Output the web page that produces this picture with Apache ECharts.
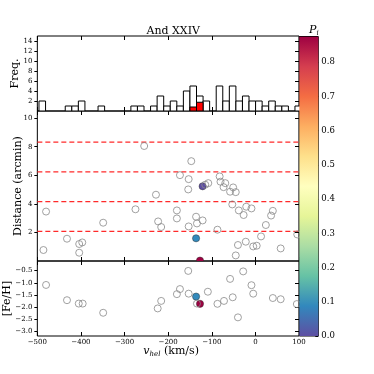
<!DOCTYPE html>
<html>
<head>
<meta charset="utf-8">
<script src="https://cdn.jsdelivr.net/npm/echarts@6/dist/echarts.min.js"></script>
<style>
  html, body { margin: 0; padding: 0; background: #fff; }
  #chart { width: 374px; height: 374px; }
</style>
</head>
<body>
<div id="chart"></div>
<script>
// heliocentric velocity axis
const velRange = [-500, 100];
const velTicks = [-500, -400, -300, -200, -100, 0, 100];

// velocity histogram (bin edges start at binStart, width binWidth)
const binStart = -496.2;
const binWidth = 15.05;
const histCounts = [2, 0, 0, 0, 1, 1, 2, 0, 0, 1, 0, 0, 0, 0, 1, 1, 0, 1, 3, 1,
                    2, 1, 4, 5, 3, 2, 0, 5, 2, 5, 2, 3, 2, 2, 1, 2, 1, 1, 0, 1];
const memberBinIdx = [23, 24];
const memberBinCounts = [0.8, 1.75];
const freqTicks = [2, 4, 6, 8, 10, 12, 14];

// distance panel
const distTicks = [2, 4, 6, 8, 10];
const rhalfLines = [2.08, 4.16, 6.24, 8.32];
const distVel = [-486, -480, -432, -404, -397, -404, -349, -255, -275, -228, -223, -216,
                 -180, -180, -173, -153, -147, -154, -153, -136, -134, -121, -115, -108,
                 -87, -82, -80, -73, -69, -58, -51, -45, -53, -38, -27, -21, -9, -40,
                 -45, -22, -5, 3, 13, 24, 36, 40, 58, 96];
const distVal = [0.77, 3.46, 1.56, 1.19, 1.30, 0.58, 2.68, 8.05, 3.62, 4.64, 2.77, 2.38,
                 3.54, 2.98, 6.01, 5.73, 6.99, 5.01, 2.42, 3.10, 2.63, 2.84, 5.34, 5.45,
                 2.19, 5.92, 5.55, 5.17, 5.45, 4.85, 5.15, 4.82, 3.96, 3.54, 3.22, 3.80, 3.68, 1.12,
                 0.39, 1.35, 1.02, 1.07, 1.72, 2.52, 3.18, 3.51, 0.88, 1.86];

// metallicity panel
const fehTicks = [-3.0, -2.5, -2.0, -1.5, -1.0, -0.5];
const fehVel = [-480, -432, -405, -396, -349, -224, -216, -180, -173, -154, -153, -134,
                -109, -87, -72, -58, -52, -40, -28, -9, -5, 40, 58, 95];
const fehVal = [-1.09, -1.72, -1.86, -1.86, -2.24, -2.06, -1.75, -1.47, -1.26, -0.51, -1.45, -1.86,
                -1.37, -1.87, -1.75, -0.84, -1.60, -2.43, -0.53, -1.10, -1.45, -1.63, -1.68, -1.88];

// probable members (P_i colour)
const memberVel = [-121, -136, -127];
const memberDist = [5.23, 1.59, 0.03];
const memberFeH = [null, -1.57, -1.87];
const memberP = [0.0, 0.09, 0.875];
const pMax = 0.875;
const pTicks = [0, 0.1, 0.2, 0.3, 0.4, 0.5, 0.6, 0.7, 0.8];

const spectral = ['#9e0142', '#d53e4f', '#f46d43', '#fdae61', '#fee08b', '#ffffbf',
                  '#e6f598', '#abdda4', '#66c2a5', '#3288bd', '#5e4fa2'];

const font = 'DejaVu Serif';
const minus = s => String(s).replace('-', '\u2212');

const chart = echarts.init(document.getElementById('chart'));

const L = 37.33, W = 261.67;
const grid = [
  { left: L, top: 36, width: W, height: 75 },
  { left: L, top: 111, width: W, height: 150 },
  { left: L, top: 261, width: W, height: 75 },
  { left: 299.33, top: 36.5, width: 19, height: 299.5 },
].map(g => Object.assign(g, { show: true, borderColor: '#000', borderWidth: 1, backgroundColor: 'transparent', outerBoundsMode: 'none' }));

function xAxis(gi, pos, labels) {
  return {
    type: 'value', gridIndex: gi, position: pos, min: velRange[0], max: velRange[1],
    axisLine: { show: false, onZero: false }, splitLine: { show: false },
    axisTick: { show: true, inside: true, length: 4, customValues: velTicks, lineStyle: { color: '#000' } },
    axisLabel: { show: labels, customValues: velTicks, margin: 3, color: '#000', fontFamily: font, fontSize: 7, formatter: minus },
  };
}

function yAxis(gi, pos, min, max, ticks, fmt, name, gap) {
  const left = pos === 'left';
  return {
    type: 'value', gridIndex: gi, position: pos, min: min, max: max,
    axisLine: { show: false, onZero: false }, splitLine: { show: false },
    axisTick: { show: true, inside: !left, length: left ? 3 : 4, customValues: ticks, lineStyle: { color: '#000' } },
    axisLabel: { show: left, customValues: ticks, margin: 5, color: '#000', fontFamily: font, fontSize: 7, formatter: fmt },
    name: left ? name : '', nameLocation: 'middle', nameGap: gap, nameMoveOverlap: false,
    nameTextStyle: { color: '#000', fontFamily: font, fontSize: 11 },
  };
}

function histItem(color) {
  return function (params, api) {
    const x0 = api.value(0), c = api.value(1);
    if (!c) return;
    const p0 = api.coord([x0, c]);
    const p1 = api.coord([x0 + binWidth, 0]);
    return {
      type: 'rect',
      shape: { x: p0[0], y: p0[1], width: p1[0] - p0[0], height: p1[1] - p0[1] },
      style: { fill: color, stroke: '#000', lineWidth: 1 },
    };
  };
}

function memberItem(params, api) {
  const p = api.coord([api.value(0), api.value(1)]);
  return {
    type: 'circle',
    shape: { cx: p[0], cy: p[1], r: 3.6 },
    style: { fill: api.visual('color'), stroke: 'rgba(40,40,40,0.55)', lineWidth: 0.8 },
  };
}

function hLineItem(params, api) {
  const a = api.coord([velRange[0], api.value(0)]);
  const b = api.coord([velRange[1], api.value(0)]);
  return {
    type: 'line',
    shape: { x1: a[0], y1: a[1], x2: b[0], y2: b[1] },
    style: { stroke: '#ff2a2a', lineWidth: 1.2, lineDash: [5, 3] },
  };
}

const grayStyle = { color: 'rgba(0,0,0,0)', borderColor: '#8a8a8a', borderWidth: 1 };

chart.setOption({
  animation: false,
  title: [
    { text: 'And XXIV', left: 168.2, top: 21, textAlign: 'center',
      textStyle: { fontFamily: font, fontSize: 11, fontWeight: 'normal', color: '#000' } },
    { text: '{p|P}{i|i}', left: 308.8, top: 19, textAlign: 'center',
      textStyle: { fontWeight: 'normal', rich: {
        p: { fontFamily: font, fontSize: 11, fontStyle: 'italic', fontWeight: 'normal', color: '#000' },
        i: { fontFamily: font, fontSize: 7, fontStyle: 'italic', fontWeight: 'normal', color: '#000', padding: [6, 0, 0, 0] },
      } } },
  ],
  grid: grid,
  xAxis: [
    xAxis(0, 'bottom', false), xAxis(0, 'top', false),
    xAxis(1, 'bottom', false), xAxis(1, 'top', false),
    Object.assign(xAxis(2, 'bottom', true), {
      name: '{v|v}{s|hel} (km/s)', nameLocation: 'middle', nameGap: 9, nameMoveOverlap: false,
      nameTextStyle: { color: '#000', fontFamily: font, fontSize: 11, padding: [0, 0, 0, 6], rich: {
        v: { fontFamily: font, fontSize: 11, fontStyle: 'italic', color: '#000' },
        s: { fontFamily: font, fontSize: 7, fontStyle: 'italic', color: '#000', padding: [6, 0, 0, 0] },
      } },
    }),
    xAxis(2, 'top', false),
    { type: 'value', gridIndex: 3, min: 0, max: 1, show: false },
  ],
  yAxis: [
    yAxis(0, 'left', 0, 15, freqTicks, v => String(v), 'Freq.', 17),
    yAxis(0, 'right', 0, 15, freqTicks),
    yAxis(1, 'left', 0, 10.5, distTicks, v => String(v), 'Distance (arcmin)', 14),
    yAxis(1, 'right', 0, 10.5, distTicks),
    yAxis(2, 'left', -3.2, -0.1, fehTicks, v => minus(v.toFixed(1)), '[Fe/H]', 25),
    yAxis(2, 'right', -3.2, -0.1, fehTicks),
    {
      type: 'value', gridIndex: 3, position: 'right', min: 0, max: pMax,
      axisLine: { show: false, onZero: false }, splitLine: { show: false },
      axisTick: { show: true, inside: true, length: 3, customValues: pTicks, lineStyle: { color: '#000' } },
      axisLabel: { customValues: pTicks, margin: 3, color: '#000', fontFamily: font, fontSize: 8.5, formatter: v => v.toFixed(1) },
    },
  ],
  visualMap: [{
    type: 'continuous', show: false, seriesIndex: [4, 6], dimension: 2,
    min: 0, max: pMax, inRange: { color: spectral.slice().reverse() },
  }],
  series: [
    { type: 'custom', xAxisIndex: 0, yAxisIndex: 0, clip: true, silent: true,
      renderItem: histItem('#ffffff'),
      data: histCounts.map((c, i) => [binStart + i * binWidth, c]) },
    { type: 'custom', xAxisIndex: 0, yAxisIndex: 0, clip: true, silent: true,
      renderItem: histItem('#ff0000'),
      data: memberBinIdx.map((k, i) => [binStart + k * binWidth, memberBinCounts[i]]) },
    { type: 'scatter', xAxisIndex: 2, yAxisIndex: 2, silent: true, symbol: 'circle', symbolSize: 7,
      itemStyle: grayStyle,
      data: distVel.map((v, i) => [v, distVal[i]]) },
    { type: 'scatter', xAxisIndex: 4, yAxisIndex: 4, silent: true, symbol: 'circle', symbolSize: 7,
      itemStyle: grayStyle,
      data: fehVel.map((v, i) => [v, fehVal[i]]) },
    { type: 'custom', xAxisIndex: 2, yAxisIndex: 2, clip: true, silent: true,
      renderItem: memberItem,
      data: memberVel.map((v, i) => [v, memberDist[i], memberP[i]]) },
    { type: 'custom', xAxisIndex: 6, yAxisIndex: 6, clip: true, silent: true, z: 5,
      renderItem: function (params, api) {
        const a = api.coord([0, api.value(1)]);
        const b = api.coord([1, 0]);
        return {
          type: 'rect',
          shape: { x: a[0], y: a[1], width: b[0] - a[0], height: b[1] - a[1] },
          style: { fill: new echarts.graphic.LinearGradient(0, 0, 0, 1,
            spectral.map((c, i) => ({ offset: i / (spectral.length - 1), color: c }))) },
        };
      },
      data: [[0, pMax]] },
    { type: 'custom', xAxisIndex: 4, yAxisIndex: 4, clip: true, silent: true,
      renderItem: memberItem,
      data: memberVel.map((v, i) => [v, memberFeH[i], memberP[i]]).filter(d => d[1] !== null) },
    { type: 'custom', xAxisIndex: 2, yAxisIndex: 2, clip: true, silent: true,
      renderItem: hLineItem,
      data: rhalfLines.map(y => [y]), encode: { y: 0 } },
  ],
});
</script>
</body>
</html>
